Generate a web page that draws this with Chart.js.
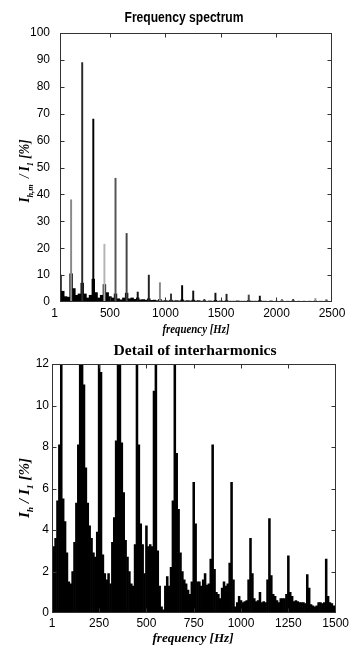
<!DOCTYPE html>
<html>
<head>
<meta charset="utf-8">
<script src="https://cdn.jsdelivr.net/npm/chart.js@4.4.0/dist/chart.umd.min.js"></script>
<style>
  html, body { margin: 0; padding: 0; background: #fff; }
  #wrap { position: relative; width: 352px; height: 645px; overflow: hidden; }
  canvas { position: absolute; left: 0; }
  #spectrum { top: 0; }
  #detail { top: 337px; }
</style>
</head>
<body>
<div id="wrap">
  <canvas id="spectrum" width="352" height="337"></canvas>
  <canvas id="detail" width="352" height="308"></canvas>
</div>
<script>
// ======================
// DATA - frequency spectrum (top)
// ======================

// base spectrum, bins every 25 Hz starting at 50 Hz
const spectrumBaseStart = 50;
const spectrumBaseStep = 25;
const spectrumBase = [
  10, 4, 2, 1.8, 10.5, 5, 2.5, 3, 7, 3,
  1.5, 2.5, 8.5, 3.5, 1.5, 2.5, 6.5, 3.5, 2, 1.5,
  3, 1.2, 0.8, 1.5, 3.3, 1.2, 1.5, 1.0, 1.5, 0.8,
  0.9, 0.7, 1.2, 0.6, 0.7, 0.5, 1.0, 0.4, 0.5, 0.4,
  0.7, 0.4, 0.5, 0.4, 0.8, 0.4, 0.5, 0.4, 0.7, 0.4,
  0.5, 0.3, 0.5, 0.3, 0.4, 0.3, 0.6, 0.3, 0.4, 0.3,
  0.5, 0.3, 0.3, 0.3, 0.4, 0.3, 0.3, 0.3, 0.5, 0.3,
  0.3, 0.3, 0.5, 0.3, 0.3, 0.2, 0.4, 0.2, 0.3, 0.2,
  0.4, 0.2, 0.3, 0.2, 0.4, 0.2, 0.3, 0.2, 0.3, 0.2,
  0.3, 0.2, 0.4, 0.2, 0.3, 0.2, 0.4, 0.2, 0.2
];

// harmonic lines
const harmonicFreq = [50, 150, 250, 350, 450, 550, 650, 750, 850, 950, 1050,
  1150, 1250, 1350, 1450, 1550, 1750, 1850, 2050, 2150, 2350, 2450];
const harmonicAmp = [100, 38, 89, 68, 21.5, 46, 25.5, 3.7, 10, 7.2, 3.0,
  6.1, 4.1, 1.0, 3.3, 2.9, 2.6, 2.2, 1.0, 1.0, 1.3, 0.9];

const spectrumXTicks = [1, 500, 1000, 1500, 2000, 2500];

// ======================
// DATA - detail of interharmonics (bottom), bins every 10 Hz from 0 Hz
// ======================

const detailStart = 0;
const detailStep = 10;
const detailAmp = [
  3.0, 3.2, 3.6, 5.4, 8.1, 30, 5.5, 4.4, 2.9, 1.5,
  1.4, 2.0, 3.4, 5.3, 8.1, 30, 30, 11, 7.0, 5.3,
  4.2, 3.6, 2.9, 2.7, 3.9, 30, 11.6, 2.8, 1.9, 1.6,
  1.9, 1.4, 3.4, 4.6, 8.3, 30, 30, 8.2, 5.8, 3.5,
  2.7, 2.0, 1.4, 1.3, 3.3, 30, 8.1, 4.3, 3.3, 1.9,
  4.2, 3.2, 3.3, 3.2, 10.7, 30, 3.0, 1.3, 0.3, 0.15,
  1.3, 1.75, 1.3, 2.2, 5.4, 30, 7.7, 5.0, 2.9, 2.0,
  1.6, 1.4, 1.1, 0.9, 1.5, 6.3, 4.3, 1.5, 1.5, 1.3,
  1.6, 1.9, 1.35, 1.4, 2.6, 8.1, 2.1, 1.0, 0.9, 0.7,
  1.2, 1.5, 1.3, 1.4, 2.4, 6.3, 1.6, 0.3, 0.5, 0.8,
  0.6, 0.5, 0.55, 0.6, 1.6, 3.6, 1.9, 0.7, 0.55, 0.6,
  1.0, 0.5, 0.55, 0.5, 1.6, 4.55, 1.8, 0.9, 0.8, 0.6,
  0.5, 0.7, 0.7, 0.7, 0.9, 2.75, 1.0, 0.8, 0.55, 0.6,
  0.55, 0.5, 0.5, 0.5, 0.45, 1.85, 1.2, 0.4, 0.35, 0.3,
  0.35, 0.5, 0.5, 0.45, 0.5, 2.6, 0.8, 0.5, 0.45, 0.35,
  0.3
];

const detailXTicks = [1, 250, 500, 750, 1000, 1250, 1500];

// line shades of the harmonic lines in the top plot
const harmonicColor = ['#000', '#8a8a8a', '#2a2a2a', '#000', '#b4b4b4', '#555', '#444',
  '#111', '#222', '#8a8a8a', '#333', '#000', '#111', '#444', '#111', '#222',
  '#444', '#111', '#777', '#444', '#999', '#666'];

// ======================
// HELPERS
// ======================

const tickFont = { family: "'Liberation Sans', Arial, sans-serif", size: 12 };
const plainLabel = v => String(v);

function drawFit(ctx, text, font, cx, cy, w){
  ctx.save();
  ctx.font = font;
  const m = ctx.measureText(text).width;
  ctx.translate(cx, cy);
  ctx.scale(w / m, 1);
  ctx.textAlign = 'center';
  ctx.textBaseline = 'middle';
  ctx.fillStyle = '#000';
  ctx.fillText(text, 0, 0);
  ctx.restore();
}

// rotated label with subscripts
function drawYTitle(ctx, parts, cx, cy, len){
  ctx.save();
  ctx.translate(cx, cy);
  ctx.rotate(-Math.PI / 2);
  let total = 0;
  parts.forEach(p => { ctx.font = p.font; total += ctx.measureText(p.t).width; });
  ctx.scale(len / total, 1);
  ctx.fillStyle = '#000';
  ctx.textAlign = 'left';
  ctx.textBaseline = 'alphabetic';
  let x = -total / 2;
  parts.forEach(p => {
    ctx.font = p.font;
    ctx.fillText(p.t, x, 4 + (p.dy || 0));
    x += ctx.measureText(p.t).width;
  });
  ctx.restore();
}

// box + inward ticks (matlab look) and the titles
const matlabAxes = {
  id: 'matlabAxes',
  afterDatasetsDraw(chart, args, o){
    const { ctx, chartArea: a, scales: { x, y } } = chart;
    ctx.save();
    ctx.strokeStyle = '#333';
    ctx.lineWidth = 1;
    const L = Math.round(a.left) + 0.5, R = Math.round(a.right) - 0.5;
    const T = Math.round(a.top) + 0.5, B = Math.round(a.bottom) - 0.5;
    ctx.strokeRect(L, T, R - L, B - T);
    ctx.beginPath();
    x.ticks.forEach(t => {
      const px = Math.round(x.getPixelForValue(t.value)) + 0.5;
      if (px <= L + 1 || px >= R - 1) return;
      ctx.moveTo(px, B); ctx.lineTo(px, B - 4);
      ctx.moveTo(px, T); ctx.lineTo(px, T + 4);
    });
    y.ticks.forEach(t => {
      const py = Math.round(y.getPixelForValue(t.value)) + 0.5;
      if (py <= T + 1 || py >= B - 1) return;
      ctx.moveTo(L, py); ctx.lineTo(L + 4, py);
      ctx.moveTo(R, py); ctx.lineTo(R - 4, py);
    });
    ctx.stroke();
    ctx.restore();

    const tt = o.title;
    drawFit(ctx, tt.text, tt.font, tt.x, tt.y, tt.w);
    const xt = o.xTitle;
    drawFit(ctx, xt.text, xt.font, xt.x, xt.y, xt.w);
    const yt = o.yTitle;
    drawYTitle(ctx, yt.parts, yt.x, yt.y, yt.len);
  }
};

function baseOptions(pad, yWidth, xHeight){
  return {
    responsive: false,
    animation: false,
    devicePixelRatio: 1,
    layout: { padding: pad },
    plugins: { legend: { display: false }, tooltip: { enabled: false } },
    scales: {
      x: {
        type: 'linear',
        offset: false,
        grid: { display: false, drawTicks: false },
        border: { display: false },
        afterFit: s => { s.height = xHeight; },
        ticks: { font: tickFont, color: '#000', maxRotation: 0, autoSkip: false, callback: plainLabel }
      },
      y: {
        min: 0,
        grid: { display: false, drawTicks: false },
        border: { display: false },
        afterFit: s => { s.width = yWidth; },
        ticks: { font: tickFont, color: '#000', callback: plainLabel }
      }
    }
  };
}

const serifB = "'Liberation Serif', 'Times New Roman', serif";

// ======================
// FREQUENCY SPECTRUM
// ======================

const optSpectrum = baseOptions({ left: 0, right: 20, top: 33, bottom: 0 }, 60, 35);
Object.assign(optSpectrum.scales.x, {
  min: 50, max: 2500,
  afterBuildTicks: s => { s.ticks = spectrumXTicks.map(v => ({ value: v })); }
});
optSpectrum.scales.x.ticks.padding = 4;
optSpectrum.scales.y.max = 100;
optSpectrum.scales.y.ticks.stepSize = 10;
optSpectrum.scales.y.ticks.padding = 10;
optSpectrum.plugins.matlabAxes = {
  title: { text: 'Frequency spectrum', font: "bold 14px 'Liberation Sans', Arial, sans-serif", x: 184, y: 18, w: 119 },
  xTitle: { text: 'frequency [Hz]', font: 'italic bold 12px ' + serifB, x: 196, y: 330, w: 67 },
  yTitle: {
    x: 25, y: 171, len: 63,
    parts: [
      { t: 'I', font: 'italic bold 14px ' + serifB },
      { t: 'h,m', font: 'italic bold 9px ' + serifB, dy: 4 },
      { t: '  / ', font: 'italic bold 14px ' + serifB },
      { t: 'I', font: 'italic bold 14px ' + serifB },
      { t: '1', font: 'italic bold 9px ' + serifB, dy: 4 },
      { t: ' [%]', font: 'italic bold 14px ' + serifB }
    ]
  }
};

new Chart(document.getElementById('spectrum'), {
  type: 'bar',
  data: {
    datasets: [
      {
        data: harmonicFreq.map((f, i) => ({ x: f, y: harmonicAmp[i] })),
        backgroundColor: harmonicColor,
        borderWidth: 0,
        barThickness: 1.3,
        grouped: false,
        order: 0
      },
      {
        data: spectrumBase.map((v, i) => ({ x: spectrumBaseStart + i * spectrumBaseStep, y: v })),
        backgroundColor: '#000',
        borderWidth: 0,
        barPercentage: 1,
        categoryPercentage: 1,
        grouped: false,
        order: 1
      }
    ]
  },
  options: optSpectrum,
  plugins: [matlabAxes]
});

// ======================
// DETAIL OF INTERHARMONICS
// ======================

const optDetail = baseOptions({ left: 0, right: 14, top: 27, bottom: 0 }, 52, 32);
Object.assign(optDetail.scales.x, {
  min: 1, max: 1500,
  afterBuildTicks: s => { s.ticks = detailXTicks.map(v => ({ value: v })); }
});
optDetail.scales.x.ticks.padding = 3;
optDetail.scales.y.max = 12;
optDetail.scales.y.ticks.stepSize = 2;
optDetail.scales.y.ticks.padding = 3;
optDetail.plugins.matlabAxes = {
  title: { text: 'Detail of interharmonics', font: 'bold 15px ' + serifB, x: 195, y: 14, w: 163 },
  xTitle: { text: 'frequency [Hz]', font: 'italic bold 12px ' + serifB, x: 193, y: 302, w: 81 },
  yTitle: {
    x: 25, y: 151, len: 60,
    parts: [
      { t: 'I', font: 'italic bold 14px ' + serifB },
      { t: 'h', font: 'italic bold 9px ' + serifB, dy: 4 },
      { t: ' / ', font: 'italic bold 14px ' + serifB },
      { t: 'I', font: 'italic bold 14px ' + serifB },
      { t: '1', font: 'italic bold 9px ' + serifB, dy: 4 },
      { t: ' [%]', font: 'italic bold 14px ' + serifB }
    ]
  }
};

new Chart(document.getElementById('detail'), {
  type: 'bar',
  data: {
    datasets: [{
      data: detailAmp.map((v, i) => ({ x: detailStart + i * detailStep, y: v })),
      backgroundColor: '#000',
      borderWidth: 0,
      barPercentage: 1,
      categoryPercentage: 1
    }]
  },
  options: optDetail,
  plugins: [matlabAxes]
});
</script>
</body>
</html>
